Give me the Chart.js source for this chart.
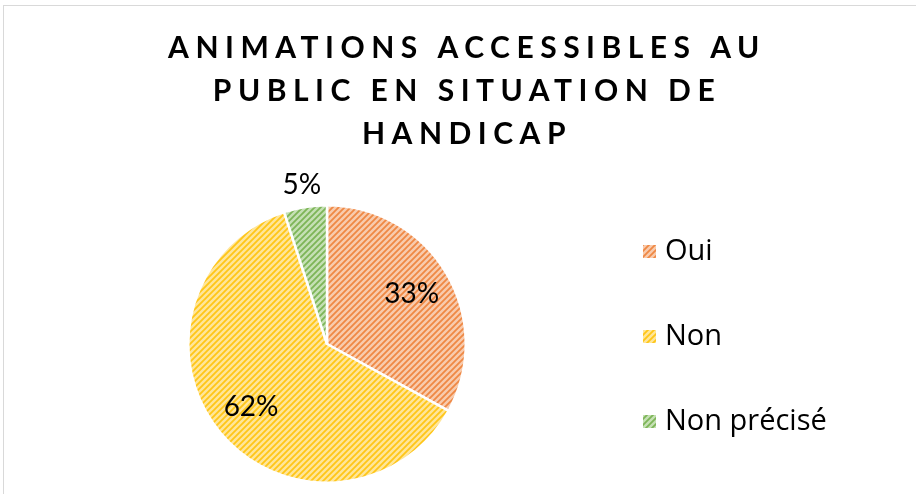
<!DOCTYPE html>
<html>
<head>
<meta charset="utf-8">
<script src="https://cdn.jsdelivr.net/npm/chart.js@4"></script>
<style>
    html, body { margin: 0; padding: 0; background: #fff; }
    #frame {
        position: absolute; left: 3px; top: 5px; width: 940px; height: 520px;
        border-left: 1px solid #d9d9d9; border-top: 1px solid #d9d9d9;
    }
    #wrap { position: absolute; left: 0; top: 0; width: 916px; height: 494px; }
</style>
</head>
<body>
<div id="frame"></div>
<div id="wrap"><canvas id="chart" width="916" height="494"></canvas></div>
<script>
const titleLines = ['ANIMATIONS ACCESSIBLES AU', 'PUBLIC EN SITUATION DE', 'HANDICAP'];
const categories = ['Oui', 'Non', 'Non précisé'];
const values = [33, 62, 5];
const baseColors = ['#f8cbad', '#ffe699', '#c5e0b4'];
const stripeColors = ['#ed7d31', '#ffc000', '#70ad47'];

// hatched fill like the office "wide upward diagonal" pattern
function makePattern(bg, fg) {
    const tile = document.createElement('canvas');
    tile.width = 6;
    tile.height = 6;
    const t = tile.getContext('2d');
    t.fillStyle = bg;
    t.fillRect(0, 0, 6, 6);
    t.strokeStyle = fg;
    t.globalAlpha = 0.85;
    t.lineWidth = 1.8;
    t.beginPath();
    t.moveTo(-1, 7); t.lineTo(7, -1);
    t.moveTo(-4, 4); t.lineTo(4, -4);
    t.moveTo(2, 10); t.lineTo(10, 2);
    t.stroke();
    return document.getElementById('chart').getContext('2d').createPattern(tile, 'repeat');
}

const fills = baseColors.map((c, i) => makePattern(c, stripeColors[i]));

const extras = {
    id: 'extras',
    afterDraw(chart) {
        const ctx = chart.ctx;
        ctx.save();
        // title
        ctx.fillStyle = '#000';
        ctx.textAlign = 'center';
        ctx.textBaseline = 'middle';
        ctx.font = 'bold 30px Lato';
        ctx.letterSpacing = '6.5px';
        titleLines.forEach((line, i) => {
            ctx.fillText(line, 467, 48 + i * 43);
        });
        ctx.letterSpacing = '0px';

        // data labels
        const arcs = chart.getDatasetMeta(0).data;
        ctx.font = '28px "Liberation Sans Narrow", Lato';
        arcs.forEach((arc, i) => {
            const mid = (arc.startAngle + arc.endAngle) / 2;
            const k = values[i] < 10 ? 1.16 : 0.71;
            const x = arc.x + Math.cos(mid) * arc.outerRadius * k;
            const y = arc.y + Math.sin(mid) * arc.outerRadius * k;
            ctx.fillText(values[i] + '%', x, y);
        });

        // legend
        ctx.textAlign = 'left';
        ctx.font = '29px "Open Sans"';
        categories.forEach((name, i) => {
            const y = 251 + i * 85;
            ctx.fillStyle = fills[i];
            ctx.fillRect(643, y - 6, 13, 13);
            ctx.fillStyle = '#000';
            ctx.fillText(name, 665, y + 1);
        });
        ctx.restore();
    }
};

new Chart(document.getElementById('chart'), {
    type: 'pie',
    data: {
        labels: categories,
        datasets: [{
            data: values,
            backgroundColor: fills,
            borderColor: '#ffffff',
            borderWidth: 2.5
        }]
    },
    options: {
        responsive: false,
        animation: false,
        layout: { padding: { left: 187, right: 449, top: 204, bottom: 10 } },
        plugins: {
            legend: { display: false },
            title: { display: false },
            tooltip: { enabled: false }
        }
    },
    plugins: [extras]
});
</script>
</body>
</html>
